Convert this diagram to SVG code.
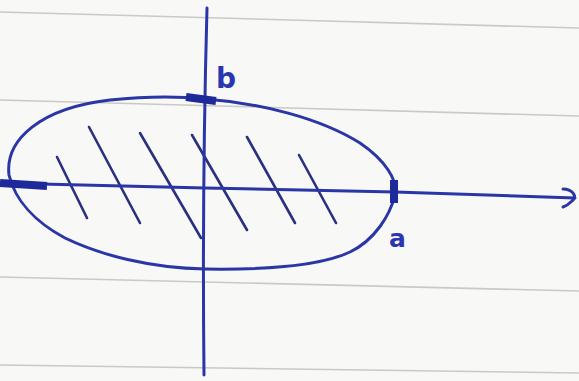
<svg xmlns="http://www.w3.org/2000/svg" width="579" height="381" viewBox="0 0 579 381">
<style>
.paper{stroke:#c9c9c6;stroke-width:1.6;fill:none}
.ink{stroke:#2a36a6;stroke-width:3;fill:none;stroke-linecap:round;stroke-linejoin:round}
.hatch{stroke:#2a3080;stroke-width:2.6;fill:none;stroke-linecap:round}
.tick{stroke:#1f2a9a;stroke-width:8;stroke-linecap:butt;fill:none}
.lbl{font-family:"DejaVu Sans","Liberation Sans",sans-serif;font-weight:bold;fill:#2a36b0}
</style>
<rect width="579" height="381" fill="#f8f8f6"/>
<g id="paper-lines">
<path class="paper" d="M0,12 L579,28"/>
<path class="paper" d="M0,100 L579,116"/>
<path class="paper" d="M0,277 L579,291"/>
<path class="paper" d="M0,365 L579,373"/>
</g>
<g id="hatching">
<path class="hatch" d="M57,157 L87,218"/>
<path class="hatch" d="M89,127 L140,223"/>
<path class="hatch" d="M140,133 L201,238"/>
<path class="hatch" d="M192,135 L247,230"/>
<path class="hatch" d="M247,137 L295,223"/>
<path class="hatch" d="M299,155 L336,223"/>
</g>
<g id="connectors">
<path id="x-axis" class="ink" d="M0,183 L205,188 L395,192 L575,198"/>
<path id="x-arrow" class="ink" d="M563,189 C572,189 578,196 572,201 C569,204 566,206 563,207"/>
<path id="y-axis" class="ink" d="M207,8 Q202,190 204,375"/>
</g>
<g id="ellipse">
<path class="ink" d="M9,175 C5,140 40,108 110,100 C150,96 185,97 205,99 C260,103 320,118 360,143 C385,160 398,180 395,195 C390,215 375,240 350,252 C320,266 270,270 205,269 C150,268 100,255 65,238 C35,222 15,200 9,175 Z"/>
</g>
<g id="ticks">
<path class="tick" d="M186,97 L216,101"/>
<path class="tick" d="M0,183 L47,186"/>
<path class="tick" d="M394,180 L394,203"/>
</g>
<g id="label-b"><text class="lbl" x="216" y="88" font-size="28">b</text></g>
<g id="label-a"><text class="lbl" x="389" y="247" font-size="25">a</text></g>
</svg>
